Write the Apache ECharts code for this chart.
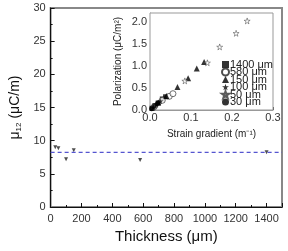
<!DOCTYPE html>
<html>
<head>
<meta charset="utf-8">
<script src="https://cdn.jsdelivr.net/npm/echarts@6/dist/echarts.min.js"></script>
<style>
html,body{margin:0;padding:0;background:#fff;}
#main{width:288px;height:251px;}
</style>
</head>
<body>
<div id="main"></div>
<script>
// main plot: mu12 vs thickness
var thickness = [30, 50, 100, 150, 580, 1400];
var mu12 = [9.0, 8.85, 7.2, 8.55, 7.1, 8.25];
var mu12Mean = 8.25;
var xTicksMain = [0, 200, 400, 600, 800, 1000, 1200, 1400];

// inset: polarization vs strain gradient, one array per sample
var legendNames = ['1400 μm', '580 μm', '150 μm', '100 μm', '50 μm', '30 μm'];
var p1400 = [[0.005, 0.04], [0.012, 0.10], [0.020, 0.16], [0.030, 0.25], [0.038, 0.30]];
var p580 = [[0.010, 0.07], [0.030, 0.22], [0.047, 0.31], [0.056, 0.37]];
var p150 = [[0.020, 0.17], [0.040, 0.32], [0.067, 0.52], [0.093, 0.72], [0.114, 0.94], [0.132, 1.09]];
var p100 = [[0.008, 0.06], [0.016, 0.13], [0.025, 0.20]];
var p50 = [[0.085, 0.66], [0.140, 1.07], [0.170, 1.43], [0.210, 1.74], [0.237, 2.02]];
var p30 = [[0.004, 0.03], [0.010, 0.08], [0.018, 0.15]];

var star = 'path://M50,0 L61,35 L98,35 L68,57 L79,91 L50,70 L21,91 L32,57 L2,35 L39,35 Z';
var font = 'Liberation Sans';

var chart = echarts.init(document.getElementById('main'));
var option = {
	animation: false,
	textStyle: { fontFamily: font },
	grid: [
		{ left: 36, top: 8, right: 6, bottom: 44, show: true, borderColor: '#888', borderWidth: 2 },
		{ left: 150, top: 13, right: 15, bottom: 141, show: true, borderColor: '#999', borderWidth: 1, backgroundColor: '#fff', z: 5 }
	],
	legend: {
		orient: 'vertical',
		left: 221,
		top: 59,
		padding: 0,
		itemWidth: 7,
		itemHeight: 7,
		itemGap: -3.5,
		z: 10,
		data: legendNames,
		textStyle: { fontFamily: font, fontSize: 11, color: '#222', padding: [0, 0, 0, -4] }
	},
	xAxis: [
		{
			gridIndex: 0, type: 'value', min: 0, max: 1500, interval: 200,
			name: 'Thickness (μm)', nameLocation: 'middle', nameGap: 22,
			nameTextStyle: { fontSize: 15, color: '#111', fontFamily: font },
			axisLine: { lineStyle: { color: '#111', width: 1 } },
			axisTick: { inside: true, length: 4, lineStyle: { color: '#111' } },
			minorTick: { show: true, splitNumber: 2, length: 2, lineStyle: { color: '#111' } },
			axisLabel: { fontSize: 11, color: '#333', margin: 6,
				formatter: function (v) { return xTicksMain.indexOf(v) >= 0 ? v : ''; } },
			splitLine: { show: false }
		},
		{
			gridIndex: 1, type: 'value', min: 0, max: 0.3, interval: 0.1,
			name: 'Strain gradient (m⁻¹)', nameLocation: 'middle', nameGap: 19,
			nameTextStyle: { fontSize: 10, color: '#222', fontFamily: font },
			axisLine: { lineStyle: { color: '#999' } },
			axisTick: { inside: true, length: 3, lineStyle: { color: '#444' } },
			minorTick: { show: true, splitNumber: 2, length: 2, lineStyle: { color: '#444' } },
			axisLabel: { fontSize: 11, color: '#333', margin: 2, formatter: function (v) { return v.toFixed(1); } },
			splitLine: { show: false }
		}
	],
	yAxis: [
		{
			gridIndex: 0, type: 'value', min: 0, max: 30, interval: 5,
			name: '{a|μ}{s|12}{a| (μC/m)}', nameLocation: 'middle', nameGap: 22,
			nameTextStyle: { color: '#111', fontFamily: font,
				rich: { a: { fontSize: 14, fontFamily: font, color: '#111' },
					s: { fontSize: 8, fontFamily: font, color: '#111', verticalAlign: 'bottom', padding: [7, 0, 0, 0] } } },
			axisLine: { lineStyle: { color: '#111' } },
			axisTick: { inside: true, length: 4, lineStyle: { color: '#111' } },
			minorTick: { show: true, splitNumber: 2, length: 2, lineStyle: { color: '#111' } },
			axisLabel: { fontSize: 11, color: '#333', margin: 5 },
			splitLine: { show: false }
		},
		{
			gridIndex: 1, type: 'value', min: 0, max: 2.2, interval: 0.5,
			name: 'Polarization (μC/m²)', nameLocation: 'middle', nameGap: 27,
			nameTextStyle: { fontSize: 10, color: '#222', fontFamily: font },
			axisLine: { lineStyle: { color: '#999' } },
			axisTick: { inside: true, length: 3, lineStyle: { color: '#444' } },
			minorTick: { show: true, splitNumber: 2, length: 2, lineStyle: { color: '#444' } },
			axisLabel: { fontSize: 11, color: '#333', margin: 3, showMaxLabel: false,
				formatter: function (v) { return v.toFixed(1); } },
			splitLine: { show: false }
		}
	],
	series: [
		{
			type: 'line', xAxisIndex: 0, yAxisIndex: 0, symbol: 'none',
			data: [[0, mu12Mean], [1500, mu12Mean]],
			lineStyle: { color: '#5555d0', width: 1.2, type: [4, 3] }
		},
		{
			type: 'scatter', xAxisIndex: 0, yAxisIndex: 0,
			symbol: 'triangle', symbolRotate: 180, symbolSize: 4,
			itemStyle: { color: '#222' },
			data: thickness.map(function (t, i) { return [t, mu12[i]]; })
		},
		{ name: legendNames[0], type: 'scatter', xAxisIndex: 1, yAxisIndex: 1, z: 6,
			symbol: 'rect', symbolSize: 5, itemStyle: { color: '#000' }, data: p1400 },
		{ name: legendNames[1], type: 'scatter', xAxisIndex: 1, yAxisIndex: 1, z: 6,
			symbol: 'circle', symbolSize: 6, itemStyle: { color: '#fff', borderColor: '#222', borderWidth: 0.8 }, data: p580 },
		{ name: legendNames[2], type: 'scatter', xAxisIndex: 1, yAxisIndex: 1, z: 6,
			symbol: 'triangle', symbolSize: 6, itemStyle: { color: '#000' }, data: p150 },
		{ name: legendNames[3], type: 'scatter', xAxisIndex: 1, yAxisIndex: 1, z: 6,
			symbol: star, symbolSize: 6, itemStyle: { color: '#000' }, data: p100 },
		{ name: legendNames[4], type: 'scatter', xAxisIndex: 1, yAxisIndex: 1, z: 6,
			symbol: star, symbolSize: 6, itemStyle: { color: '#fff', borderColor: '#333', borderWidth: 0.6 }, data: p50 },
		{ name: legendNames[5], type: 'scatter', xAxisIndex: 1, yAxisIndex: 1, z: 6,
			symbol: 'circle', symbolSize: 5, itemStyle: { color: '#000' }, data: p30 }
	]
};
chart.setOption(option);
</script>
</body>
</html>
